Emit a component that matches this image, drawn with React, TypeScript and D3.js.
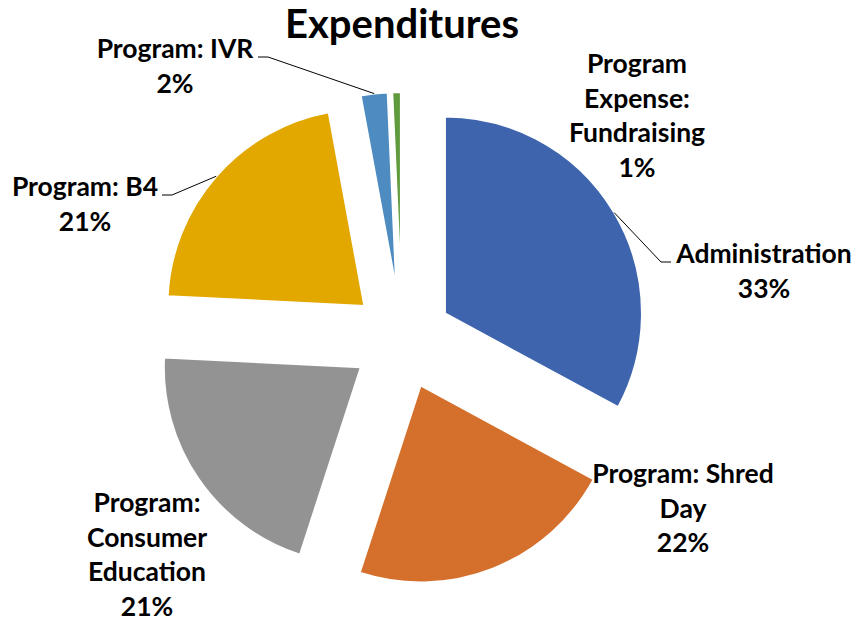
import React from "react";
import * as d3 from "d3";

const categories = [
  "Administration",
  "Program: Shred Day",
  "Program: Consumer Education",
  "Program: B4",
  "Program: IVR",
  "Program Expense: Fundraising",
];
const values = [32.9, 22.1, 20.8, 21.3, 2.2, 0.7];
const colors = ["#3D64AD", "#D4702C", "#939393", "#E2A800", "#4E8BC1", "#5F9A3C"];
const labelLines = [
  ["Administration"],
  ["Program: Shred", "Day"],
  ["Program:", "Consumer", "Education"],
  ["Program: B4"],
  ["Program: IVR"],
  ["Program", "Expense:", "Fundraising"],
];

// layout
const W = 858;
const H = 621;
const CX = 402;
const CY = 339;
const R = 197;
const EXPLODE = 50;
const FONT = "Lato, 'Open Sans', sans-serif";
const LINE_H = 34.5;
const labelPos = [
  { x: 764, y: 263, leader: true, side: "left" },
  { x: 683, y: 483, leader: false, side: "left" },
  { x: 147, y: 512, leader: false, side: "right" },
  { x: 85, y: 196, leader: true, side: "right" },
  { x: 175, y: 58, leader: true, side: "right" },
  { x: 637, y: 73, leader: false, side: "left" },
];
const labelHalfWidth = [88, 90, 60, 72, 78, 68];

export default function App() {
  const total = d3.sum(values);
  const pie = d3
    .pie<number>()
    .sort(null)
    .value((d) => d)
    .startAngle(0)
    .endAngle(2 * Math.PI);
  const arcs = pie(values);
  const arcGen = d3.arc<d3.PieArcDatum<number>>().innerRadius(0).outerRadius(R);

  return (
    <svg
      width={W}
      height={H}
      style={{ position: "absolute", left: 0, top: 0, background: "#fff" }}
    >
      <text
        x={CX}
        y={38}
        textAnchor="middle"
        fontFamily={FONT}
        fontWeight={700}
        fontSize={40}
        fill="#000"
      >
        Expenditures
      </text>
      {arcs.map((a, i) => {
        const mid = (a.startAngle + a.endAngle) / 2;
        const ox = CX + EXPLODE * Math.sin(mid);
        const oy = CY - EXPLODE * Math.cos(mid);
        return (
          <path
            key={categories[i]}
            d={arcGen(a) || ""}
            transform={`translate(${ox},${oy})`}
            fill={colors[i]}
            stroke="#fff"
            strokeWidth={2}
          />
        );
      })}
      {arcs.map((a, i) => {
        const lp = labelPos[i];
        if (!lp.leader) return null;
        const mid = (a.startAngle + a.endAngle) / 2;
        const ox = CX + EXPLODE * Math.sin(mid);
        const oy = CY - EXPLODE * Math.cos(mid);
        const sx = ox + R * Math.sin(mid);
        const sy = oy - R * Math.cos(mid);
        const hw = labelHalfWidth[i];
        const ex = lp.side === "left" ? lp.x - hw - 5 : lp.x + hw + 5;
        const ex2 = lp.side === "left" ? ex - 10 : ex + 10;
        const ey = lp.y - 1;
        return (
          <polyline
            key={"l" + i}
            points={`${sx},${sy} ${ex2},${ey} ${ex},${ey}`}
            fill="none"
            stroke="#000"
            strokeWidth={1}
          />
        );
      })}
      {arcs.map((a, i) => {
        const lp = labelPos[i];
        const pct = Math.round((a.value / total) * 100) + "%";
        const lines = [...labelLines[i], pct];
        return (
          <text
            key={"t" + i}
            textAnchor="middle"
            fontFamily={FONT}
            fontWeight={700}
            fontSize={26.5}
            fill="#000"
          >
            {lines.map((ln, j) => (
              <tspan key={j} x={lp.x} y={lp.y + j * LINE_H}>
                {ln}
              </tspan>
            ))}
          </text>
        );
      })}
    </svg>
  );
}
